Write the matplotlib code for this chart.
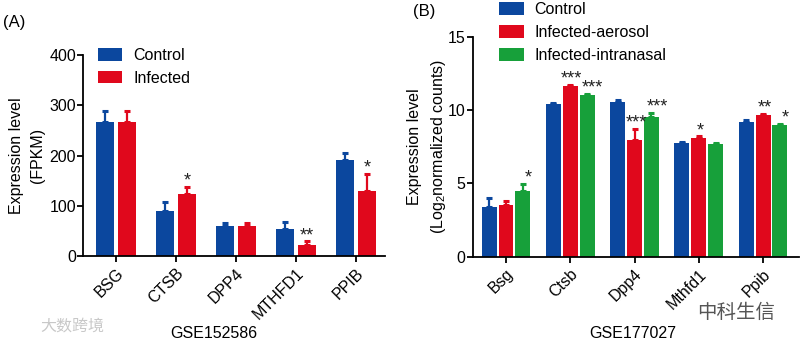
"""
Expression of candidate entry-factor genes in two datasets
"""

import numpy as np
import matplotlib.pyplot as plt

# ---------------------------------------------------------------------------- #
# Data
# ---------------------------------------------------------------------------- #
genes_a = ['BSG', 'CTSB', 'DPP4', 'MTHFD1', 'PPIB']
control_a = [266, 90, 60, 53, 191]
control_a_err = [23, 17, 6, 14, 15]
infected_a = [266, 123, 60, 22, 130]
infected_a_err = [23, 15, 6, 7, 34]
stars_a = ['', '*', '', '**', '*']

genes_b = ['Bsg', 'Ctsb', 'Dpp4', 'Mthfd1', 'Ppib']
control_b = [3.36, 10.42, 10.57, 7.73, 9.20]
control_b_err = [0.64, 0.05, 0.13, 0.12, 0.10]
aerosol_b = [3.50, 11.64, 7.95, 8.11, 9.66]
aerosol_b_err = [0.30, 0.08, 0.75, 0.10, 0.06]
intranasal_b = [4.50, 11.04, 9.54, 7.66, 8.98]
intranasal_b_err = [0.48, 0.08, 0.26, 0.10, 0.07]
stars_aerosol = ['', '***', '***', '*', '**']
stars_intranasal = ['*', '***', '***', '', '*']

blue = '#0b479e'
red = '#e0081c'
green = '#17a03a'

plt.rcParams['font.family'] = ['Liberation Sans', 'DejaVu Sans']
plt.rcParams['mathtext.default'] = 'regular'
plt.rcParams['font.size'] = 11.5
plt.rcParams['axes.linewidth'] = 1.3
plt.rcParams['xtick.major.width'] = 1.3
plt.rcParams['ytick.major.width'] = 1.3
plt.rcParams['xtick.major.size'] = 4
plt.rcParams['ytick.major.size'] = 4

fig = plt.figure(figsize=(8.01, 3.44), dpi=100)
ax_a = fig.add_axes([0.1036, 0.2558, 0.377, 0.5842])
ax_b = fig.add_axes([0.590, 0.2538, 0.4075, 0.6395])


def draw_bars(ax, x, values, errs, colour, width, label):
    ax.bar(x, values, width=width, color=colour, label=label, zorder=2)
    ax.errorbar(x, values, yerr=[np.zeros(len(errs)), errs], fmt='none',
                ecolor=colour, elinewidth=1.6, capsize=2.5, capthick=2.2,
                zorder=1)


def draw_stars(ax, x, values, errs, stars, dx=0):
    for xi, v, e, s in zip(x, values, errs, stars):
        if s:
            ax.annotate(s, (xi, v + e), xytext=(dx, -2), textcoords='offset points',
                        ha='center', va='bottom', fontsize=13, color='#222222')


def style_axes(ax):
    for side in ['top', 'right']:
        ax.spines[side].set_visible(False)
    ax.tick_params(axis='x', labelrotation=45, pad=3)
    ax.tick_params(axis='y', pad=1)
    for lab in ax.get_xticklabels():
        lab.set_ha('right')
        lab.set_va('top')
        lab.set_rotation_mode('anchor')


# ---------------------------------------------------------------------------- #
# Panel A
# ---------------------------------------------------------------------------- #
xa = np.arange(len(genes_a))
w_a = 0.3
draw_bars(ax_a, xa - 0.19, control_a, control_a_err, blue, w_a, 'Control')
draw_bars(ax_a, xa + 0.18, infected_a, infected_a_err, red, w_a, 'Infected')
draw_stars(ax_a, xa + 0.18, infected_a, infected_a_err, stars_a)

ax_a.set_xlim(-0.55, 4.48)
ax_a.set_ylim(0, 400)
ax_a.set_yticks([0, 100, 200, 300, 400])
ax_a.set_xticks(xa)
ax_a.set_xticklabels(genes_a)
style_axes(ax_a)
ax_a.set_ylabel('Expression level\n(FPKM)', linespacing=1.55, labelpad=3)
ax_a.legend(loc='upper left', bbox_to_anchor=(0.03, 1.065), frameon=False,
            handlelength=1.5, handleheight=0.85, handletextpad=0.7,
            labelspacing=0.45, fontsize=11.5, borderaxespad=0)

# ---------------------------------------------------------------------------- #
# Panel B
# ---------------------------------------------------------------------------- #
xb = np.arange(len(genes_b))
w_b = 0.233
step = 0.264
draw_bars(ax_b, xb - step, control_b, control_b_err, blue, w_b, 'Control')
draw_bars(ax_b, xb, aerosol_b, aerosol_b_err, red, w_b, 'Infected-aerosol')
draw_bars(ax_b, xb + step, intranasal_b, intranasal_b_err, green, w_b,
          'Infected-intranasal')
draw_stars(ax_b, xb, aerosol_b, aerosol_b_err, stars_aerosol, dx=1)
draw_stars(ax_b, xb + step, intranasal_b, intranasal_b_err, stars_intranasal,
           dx=4)

ax_b.set_xlim(-0.52, 4.56)
ax_b.set_ylim(0, 15)
ax_b.set_yticks([0, 5, 10, 15])
ax_b.set_xticks(xb)
ax_b.set_xticklabels(genes_b)
style_axes(ax_b)
ax_b.set_ylabel('Expression level\n(Log$_2$normalized counts)', linespacing=1.5,
                labelpad=0)
ax_b.legend(loc='upper left', bbox_to_anchor=(0.06, 1.185), frameon=False,
            handlelength=1.6, handleheight=0.85, handletextpad=0.65,
            labelspacing=0.5, fontsize=11.5, borderaxespad=0)

# ---------------------------------------------------------------------------- #
# Figure text
# ---------------------------------------------------------------------------- #
fig.text(0.004, 0.936, '(A)', fontsize=12, va='center', ha='left')
fig.text(0.516, 0.968, '(B)', fontsize=12, va='center', ha='left')
fig.text(214 / 801, 1 - 333 / 344, 'GSE152586', ha='center', va='center')
fig.text(633 / 801, 1 - 333 / 344, 'GSE177027', ha='center', va='center')

fig.text(40 / 801, 1 - 326 / 344, '大数跨境', family=['Noto Sans CJK SC'],
         fontsize=11.5, color='#c8c8c8', ha='left', va='center')
fig.text(697 / 801, 1 - 312 / 344, '中科生信', family=['Noto Sans CJK SC'],
         fontsize=14, color='#555555', ha='left', va='center')

fig.savefig('out.png', dpi=100)
plt.close()
